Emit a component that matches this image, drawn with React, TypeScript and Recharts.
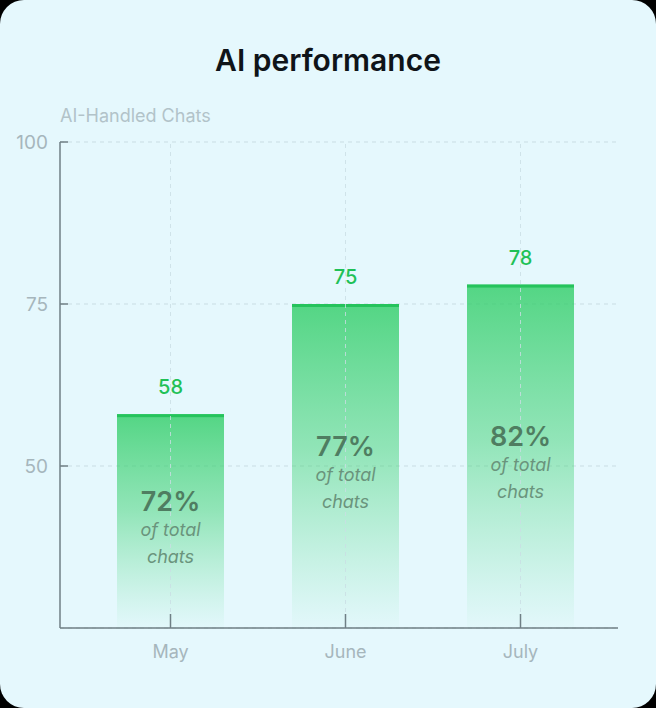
import { BarChart, Bar, XAxis, YAxis, CartesianGrid, LabelList, ReferenceLine } from 'recharts';

const months = ['May', 'June', 'July'];
const aiChats = [58, 75, 78];
const shareOfTotal = [72, 77, 82];
const yTicks = [50, 75, 100];

const data = months.map((month, i) => ({ month, chats: aiChats[i], share: shareOfTotal[i] }));

const FONT = 'Inter, "Noto Sans", sans-serif';

const GradientBar = (props: any) => {
  const { x, y, width, height } = props;
  if (height <= 0) return null;
  return (
    <g>
      <rect x={x} y={y} width={width} height={height} fill="url(#barFade)" />
      <rect x={x} y={y} width={width} height={3} fill="#25c35c" />
    </g>
  );
};

const TopValue = (props: any) => {
  const { x, y, width, value } = props;
  return (
    <text x={x + width / 2} y={y - 20} textAnchor="middle" fontSize={20} fontWeight={500} fill="#1fc157" fontFamily={FONT}>
      {value}
    </text>
  );
};

const ShareLabel = (props: any) => {
  const { x, y, width, height, value } = props;
  const cx = x + width / 2;
  const cy = y + height / 2;
  return (
    <g fontFamily={FONT} textAnchor="middle">
      <text x={cx} y={cy - 10} fontSize={27} fontWeight={600} fill="#4f7d61">
        {`${value}%`}
      </text>
      <text x={cx} y={cy + 15} fontSize={18} fontStyle="italic" fill="#6a947c">
        of total
      </text>
      <text x={cx} y={cy + 42} fontSize={18} fontStyle="italic" fill="#6a947c">
        chats
      </text>
    </g>
  );
};

export default function App() {
  return (
    <div style={{ position: 'fixed', left: 0, top: 0, width: 656, height: 708, background: '#000' }}>
      <div
        style={{
          position: 'relative',
          width: 656,
          height: 708,
          background: '#e5f8fd',
          borderRadius: 24,
          fontFamily: FONT,
          overflow: 'hidden',
        }}
      >
        <div
          style={{
            position: 'absolute',
            top: 40,
            left: 0,
            width: 656,
            textAlign: 'center',
            fontSize: 30,
            fontWeight: 600,
            color: '#0f1419',
            lineHeight: '40px',
          }}
        >
          AI performance
        </div>
        <div style={{ position: 'absolute', top: 104, left: 60, fontSize: 18, color: '#b2c3c9', lineHeight: '24px' }}>
          AI-Handled Chats
        </div>
        <div style={{ position: 'absolute', top: 0, left: 0 }}>
          <BarChart width={656} height={708} data={data} margin={{ top: 142, right: 38, left: 10, bottom: 50 }}>
            <defs>
              <linearGradient id="barFade" x1="0" y1="0" x2="0" y2="1">
                <stop offset="0%" stopColor="#2fcd66" stopOpacity={0.8} />
                <stop offset="45%" stopColor="#3dd172" stopOpacity={0.5} />
                <stop offset="100%" stopColor="#5ddc8c" stopOpacity={0.02} />
              </linearGradient>
            </defs>
            <CartesianGrid stroke="#c9dde3" strokeDasharray="4 4" vertical={false} />
            <XAxis
              dataKey="month"
              padding={{ left: 23, right: 10 }}
              height={30}
              tickSize={-14}
              tickMargin={31}
              axisLine={{ stroke: '#6f7f85', strokeWidth: 1.5 }}
              tickLine={{ stroke: '#6f7f85', strokeWidth: 1.5 }}
              tick={{ fill: '#a6b6bc', fontSize: 18, fontFamily: FONT }}
            />
            <YAxis
              domain={[25, 100]}
              ticks={yTicks}
              width={50}
              tickSize={-8}
              tickMargin={20}
              axisLine={{ stroke: '#6f7f85', strokeWidth: 1.5 }}
              tickLine={{ stroke: '#6f7f85', strokeWidth: 1.5 }}
              tick={{ fill: '#a6b6bc', fontSize: 19, fontFamily: FONT }}
            />
            <Bar dataKey="chats" barSize={107} shape={<GradientBar />} isAnimationActive={false}>
              <LabelList dataKey="chats" content={<TopValue />} />
              <LabelList dataKey="share" content={<ShareLabel />} />
            </Bar>
            {months.map((m) => (
              <ReferenceLine key={m} x={m} stroke="#c9dde3" strokeOpacity={0.8} strokeDasharray="4 4" />
            ))}
          </BarChart>
        </div>
      </div>
    </div>
  );
}
